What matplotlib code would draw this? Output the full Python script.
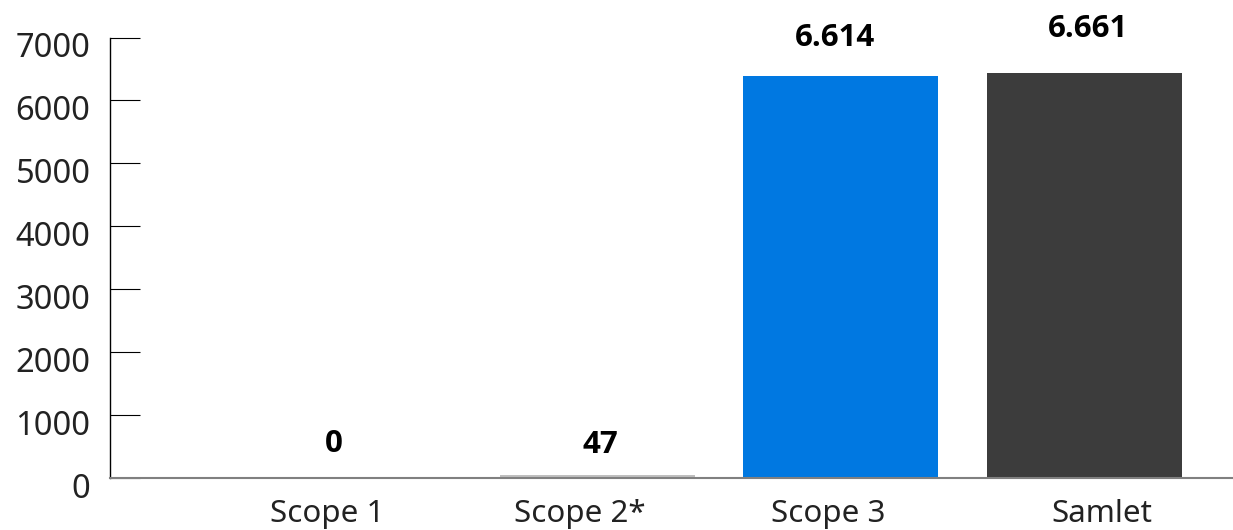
import numpy as np
import matplotlib
matplotlib.use("Agg")
from matplotlib import pyplot as plt
from matplotlib import transforms

## data
##------------------------------------------------------------------------
categories = ["Scope 1", "Scope 2*", "Scope 3", "Samlet"]
bar_heights = [0, 47, 6390, 6437]
value_labels = ["0", "47", "6.614", "6.661"]
bar_colors = ["#bfbfbf", "#bfbfbf", "#0078e1", "#3c3c3c"]
y_ticks = [0, 1000, 2000, 3000, 4000, 5000, 6000, 7000]

## small nudges (pixels) so the labels sit as in the original
label_dx = [-20, 3, -6, 4]
label_dy = [34, 30, 38, 44]
cat_dx = [-0.11, -0.07, -0.05, 0.07]

plt.rcParams['font.family'] = ['Noto Sans', 'DejaVu Sans']

fig = plt.figure(figsize=(12.33, 5.3), dpi=100)
ax = fig.add_axes([0.0892, 0.0981, 0.9108, 0.831])

x = np.arange(len(categories))
bars = ax.bar(x, bar_heights, width=0.8, color=bar_colors)

px = 72.0 / fig.dpi
for b, txt, dx, dy in zip(bars, value_labels, label_dx, label_dy):
  ax.annotate(txt, (b.get_x() + b.get_width()/2, b.get_height()),
              xytext=(dx*px, dy*px), textcoords="offset points",
              ha="center", va="center", fontsize=22.5, fontweight="bold",
              family=['Open Sans', 'DejaVu Sans'], color="black")

ax.set_xlim(-1.0, 3.61)
ax.set_ylim(0, 7000)
ax.set_yticks(y_ticks)
ax.set_yticklabels([str(t) for t in y_ticks])
ax.set_xticks(x + np.array(cat_dx))
ax.set_xticklabels(categories)

ax.tick_params(axis="y", direction="in", length=21.6, width=0.8, pad=14,
               labelsize=23.5, colors="black", labelcolor="#222222")
ax.tick_params(axis="x", length=0, pad=15, labelsize=22.5, labelcolor="#222222")

## y labels sit a little below their ticks in the original
shift = transforms.ScaledTranslation(0, -7/fig.dpi, fig.dpi_scale_trans)
for lab in ax.get_yticklabels():
  lab.set_transform(lab.get_transform() + shift)

for s in ["top", "right"]:
  ax.spines[s].set_visible(False)
ax.spines["left"].set_linewidth(1.0)
ax.spines["bottom"].set_color("#808080")
ax.spines["bottom"].set_linewidth(1.5)

fig.savefig("out.png", dpi=100)
